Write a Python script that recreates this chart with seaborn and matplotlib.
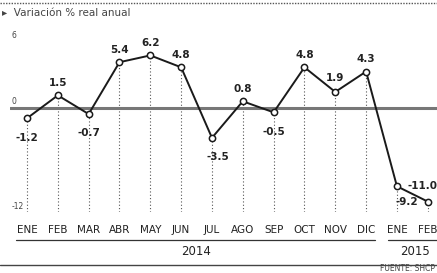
import numpy as np
import pandas as pd
import matplotlib
matplotlib.use("Agg")
import matplotlib.pyplot as plt
import seaborn as sns

# datos: variación % real anual (fuente SHCP)
MESES = ["ENE", "FEB", "MAR", "ABR", "MAY", "JUN", "JUL", "AGO", "SEP", "OCT", "NOV", "DIC", "ENE", "FEB"]
ANIOS = ["2014"] * 12 + ["2015"] * 2
VALORES = [-1.2, 1.5, -0.7, 5.4, 6.2, 4.8, -3.5, 0.8, -0.5, 4.8, 1.9, 4.3, -9.2, -11.0]
ETIQUETAS = ["-1.2", "1.5", "-0.7", "5.4", "6.2", "4.8", "-3.5", "0.8", "-0.5", "4.8", "1.9", "4.3", "-9.2", "-11.0"]
# desplazamiento de cada etiqueta (puntos)
OFFSETS = [(0, -14), (0, 9), (0, -14), (0, 9), (0, 9), (0, 9), (4, -14), (0, 9), (0, -14),
           (0, 9), (0, 10), (0, 9), (7, -11), (0, 11)]

YMIN, YMAX = -12.24, 9.41

sns.set_style("white")
plt.rcParams['font.family'] = ['Liberation Sans Narrow', 'DejaVu Sans']

df = pd.DataFrame({"x": np.arange(len(VALORES)), "valor": VALORES})

fig = plt.figure(figsize=(4.37, 2.73), dpi=100)
ax = fig.add_axes([0.023, 0.223, 0.977, 0.674])

# líneas verticales punteadas
ax.vlines(df["x"], YMIN, df["valor"], colors="#555555", linestyles=(0, (1, 2)), linewidth=0.8, zorder=1)
# línea de cero
ax.axhline(0, color="#777777", linewidth=2.2, zorder=2)

sns.lineplot(data=df, x="x", y="valor", ax=ax, color="#1a1a1a", linewidth=1.4,
             marker="o", markersize=4.5, markerfacecolor="white", markeredgecolor="#1a1a1a",
             markeredgewidth=1.1, zorder=3)

for i, (xi, v, lab, off) in enumerate(zip(df["x"], VALORES, ETIQUETAS, OFFSETS)):
    ha = "right" if i == len(VALORES) - 1 else "center"
    if ha == "right":
        off = (7, off[1])
    ax.annotate(lab, (xi, v), xytext=off, textcoords="offset points", ha=ha, va="center",
                fontsize=7.5, fontweight="bold", color="#222222")

ax.set_xlim(-0.55, 13.3)
ax.set_ylim(YMIN, YMAX)
ax.set_xticks([])
ax.set_yticks([])
ax.set_xlabel("")
ax.set_ylabel("")
for s in ax.spines.values():
    s.set_visible(False)

# etiquetas del eje y
ax.text(-0.5, 8.6, "6", fontsize=5.5, color="#444444", ha="left", va="center")
ax.text(-0.5, 0.3, "0", fontsize=5.5, color="#444444", ha="left", va="bottom")
ax.text(-0.5, -11.6, "-12", fontsize=5.5, color="#444444", ha="left", va="center")

# meses y años
trans = ax.get_xaxis_transform()
for xi, m in zip(df["x"], MESES):
    ax.text(xi, -0.095, m, transform=trans, ha="center", va="center", fontsize=7.5, color="#222222")
ax.plot([-0.35, 11.3], [-0.15, -0.15], transform=trans, color="#333333", linewidth=0.9, clip_on=False)
ax.plot([11.7, 13.5], [-0.15, -0.15], transform=trans, color="#333333", linewidth=0.9, clip_on=False)
for anio in ["2014", "2015"]:
    idx = [i for i, a in enumerate(ANIOS) if a == anio]
    ax.text(np.mean(idx) if anio == "2014" else 12.6, -0.215, anio, transform=trans,
            ha="center", va="center", fontsize=8.5, color="#222222")

# título, líneas de marco y fuente
fig.text(0.005, 0.952, "\u25b8  Variación % real anual", fontsize=7.5, color="#444444", ha="left", va="center",
         family=['DejaVu Sans'])
fig.add_artist(plt.Line2D([0, 1], [0.99, 0.99], color="#555555", linewidth=1.0, linestyle=(0, (1, 1))))
fig.add_artist(plt.Line2D([0, 1], [0.03, 0.03], color="#444444", linewidth=1.0))
fig.text(0.995, 0.0, "FUENTE: SHCP", fontsize=5.5, color="#444444", ha="right", va="bottom")

fig.savefig("out.png", dpi=100)
